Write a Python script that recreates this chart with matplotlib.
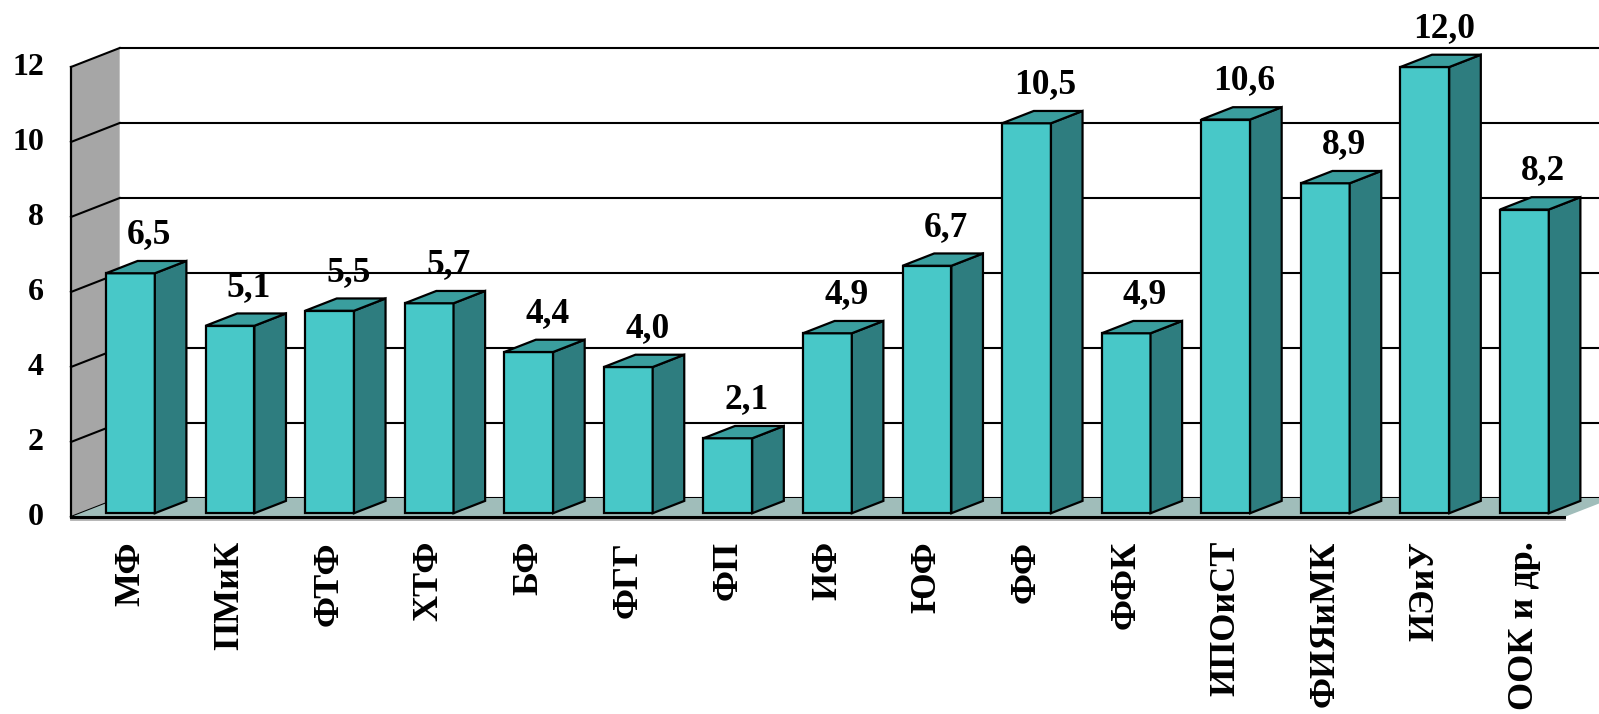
import matplotlib
matplotlib.use('Agg')
import matplotlib.pyplot as plt
from matplotlib.patches import Polygon

# data
categories = ['МФ', 'ПМиК', 'ФТФ', 'ХТФ', 'БФ', 'ФГГ', 'ФП', 'ИФ', 'ЮФ',
              'ФФ', 'ФФК', 'ИПОиСТ', 'ФИЯиМК', 'ИЭиУ', 'ООК и др.']
values = [6.5, 5.1, 5.5, 5.7, 4.4, 4.0, 2.1, 4.9, 6.7, 10.5, 4.9, 10.6, 8.9, 12.0, 8.2]
value_labels = ['6,5', '5,1', '5,5', '5,7', '4,4', '4,0', '2,1', '4,9', '6,7',
                '10,5', '4,9', '10,6', '8,9', '12,0', '8,2']
yticks = [0, 2, 4, 6, 8, 10, 12]

# fake 3d depth (in data units)
DX, DY = 0.49, 0.507
d0, bd = 0.2, 0.647
bw = 0.49

front_col = '#48C8C8'
side_col = '#2E7D7F'
top_col = '#3A9E9E'
wall_col = '#A6A6A6'
floor_col = '#A0BDBA'

serif = dict(family='Liberation Serif', weight='bold')

fig = plt.figure(figsize=(15.99, 7.14), dpi=100)
ax = fig.add_axes([0, 0, 1, 1])
ax.set_xlim(-1.212, 14.847)
ax.set_ylim(-5.253, 13.787)
ax.axis('off')

n = len(categories)
x0, x1 = -0.5, n - 0.5
ymax = yticks[-1]

# left wall
ax.add_patch(Polygon([(x0, 0), (x0 + DX, DY), (x0 + DX, ymax + DY), (x0, ymax)],
                     closed=True, facecolor=wall_col, edgecolor='none', zorder=1))
ax.plot([x0, x0], [0, ymax], color='black', lw=1.6, zorder=2)

# gridlines on back wall and left wall
for t in yticks:
    ax.plot([x0 + DX, x1 + DX + 1], [t + DY, t + DY], color='black', lw=1.5, zorder=2)
    ax.plot([x0, x0 + DX], [t, t + DY], color='black', lw=1.5, zorder=2)
    ax.text(-0.77, t, str(t), ha='right', va='center', fontsize=23, **serif)

# floor
ax.add_patch(Polygon([(x0, 0), (x1, 0), (x1 + DX, DY), (x0 + DX, DY)],
                     closed=True, facecolor=floor_col, edgecolor='none', zorder=3))
ax.plot([x0, x1], [-0.06, -0.06], color='#B0B0B0', lw=2, zorder=3)
ax.plot([x0, x1], [0, 0], color='black', lw=2.2, zorder=4)

# bars (front face sits a bit behind the front plane)
xs = [i + d0 * DX for i in range(n)]
b = d0 * DY
heights = [v - b for v in values]
ax.bar(xs, heights, width=bw, bottom=b, color=front_col, edgecolor='black',
       linewidth=1.6, zorder=5)
for x, v, lab, cat in zip(xs, values, value_labels, categories):
    xl, xr = x - bw / 2, x + bw / 2
    side = [(xr, b), (xr + bd * DX, b + bd * DY),
            (xr + bd * DX, v + bd * DY), (xr, v)]
    top = [(xl, v), (xr, v), (xr + bd * DX, v + bd * DY), (xl + bd * DX, v + bd * DY)]
    ax.add_patch(Polygon(side, closed=True, facecolor=side_col, edgecolor='black',
                         lw=1.6, zorder=5))
    ax.add_patch(Polygon(top, closed=True, facecolor=top_col, edgecolor='black',
                         lw=1.6, zorder=5))
    ax.text(x + 0.19, v + 0.8, lab, ha='center', va='baseline', zorder=6,
            fontsize=25.5, **serif)
    ax.text(x, -0.64, cat, ha='center', va='top', rotation=90, fontsize=26, **serif)

# cropped title remnant at the top edge (only the descender shows)
fig.text(0.1, 1.012, 'у', ha='left', va='baseline', fontsize=26, **serif)

fig.savefig('out.png', dpi=100)
